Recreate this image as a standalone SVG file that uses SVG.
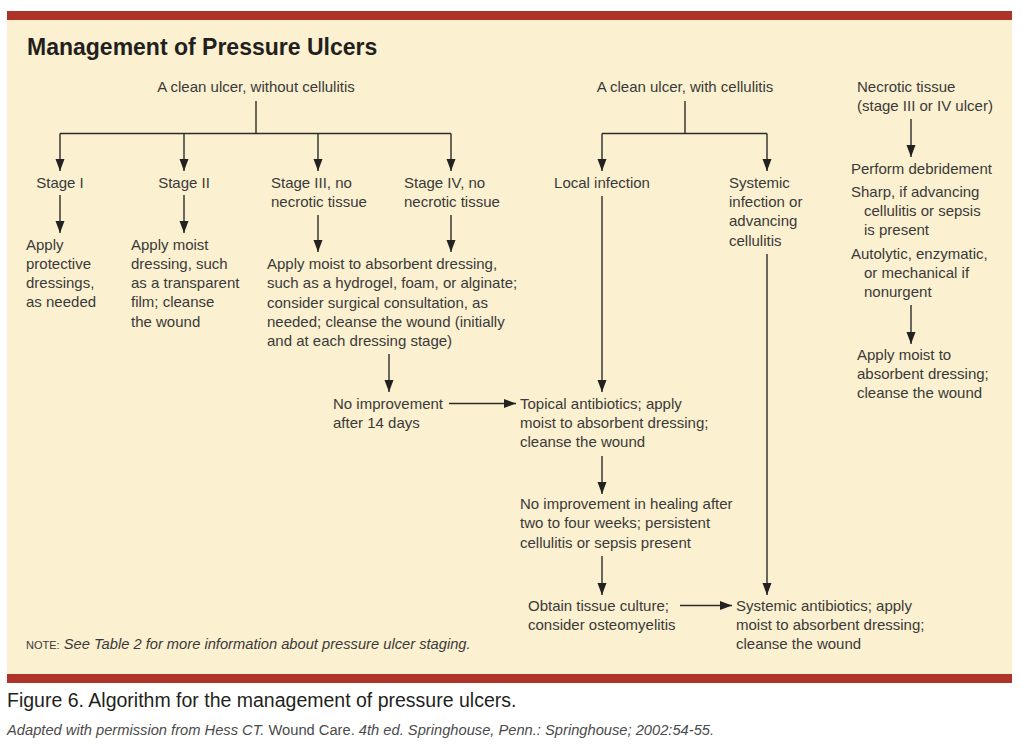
<svg xmlns="http://www.w3.org/2000/svg" width="1022" height="745" viewBox="0 0 1022 745">
<defs>
<marker id="ah" markerUnits="userSpaceOnUse" markerWidth="13" markerHeight="10" refX="12" refY="4.5" orient="auto">
<path d="M0,0 L12,4.5 L0,9 z" fill="#222"/>
</marker>
<style>
.t{font-family:"Liberation Sans",Arial,sans-serif;font-size:15px;fill:#3a3a3a}
.c{text-anchor:middle}
.ln{stroke:#2b2b2b;stroke-width:1.4;fill:none}
.ar{stroke:#2b2b2b;stroke-width:1.4;fill:none;marker-end:url(#ah)}
</style>
</defs>
<rect x="0" y="0" width="1022" height="745" fill="#ffffff"/>
<rect x="7" y="20" width="1005" height="655" fill="#FBF0CF"/>
<rect x="7" y="11" width="1005" height="9" fill="#AE3429"/>
<rect x="7" y="674" width="1005" height="9" fill="#AE3429"/>
<text x="27" y="55" font-family="Liberation Sans,Arial,sans-serif" font-size="23" font-weight="bold" fill="#231f20">Management of Pressure Ulcers</text>

<g id="connectors">
<path class="ln" d="M256,101 V133.5 M60,133.5 H451"/>
<path class="ar" d="M60,133.5 V171"/>
<path class="ar" d="M184,133.5 V171"/>
<path class="ar" d="M318,133.5 V171"/>
<path class="ar" d="M451,133.5 V171"/>
<path class="ar" d="M60,195 V233"/>
<path class="ar" d="M184,195 V233"/>
<path class="ar" d="M318,215 V252"/>
<path class="ar" d="M451,215 V252"/>
<path class="ar" d="M389,354 V392"/>
<path class="ar" d="M449,403.5 H516"/>
<path class="ln" d="M685,101 V133.5 M602,133.5 H767"/>
<path class="ar" d="M602,133.5 V171"/>
<path class="ar" d="M767,133.5 V171"/>
<path class="ar" d="M602,196 V392"/>
<path class="ar" d="M602,456 V494"/>
<path class="ar" d="M602,556 V595"/>
<path class="ar" d="M767,254 V595"/>
<path class="ar" d="M680,605.5 H732"/>
<path class="ar" d="M911,119 V157"/>
<path class="ar" d="M911,305 V344"/>
</g>

<g id="n-clean-no-cell"><text class="t c" x="256" y="92">A clean ulcer, without cellulitis</text></g>
<g id="n-stage1"><text class="t c" x="60" y="188">Stage I</text></g>
<g id="n-stage2"><text class="t c" x="184" y="188">Stage II</text></g>
<g id="n-stage3"><text class="t" x="271" y="188">Stage III, no</text><text class="t" x="271" y="207">necrotic tissue</text></g>
<g id="n-stage4"><text class="t" x="404" y="188">Stage IV, no</text><text class="t" x="404" y="207">necrotic tissue</text></g>
<g id="n-apply-prot"><text class="t" x="26" y="250">Apply</text><text class="t" x="26" y="269">protective</text><text class="t" x="26" y="288">dressings,</text><text class="t" x="26" y="307">as needed</text></g>
<g id="n-apply-moist"><text class="t" x="131" y="250">Apply moist</text><text class="t" x="131" y="269">dressing, such</text><text class="t" x="131" y="288">as a transparent</text><text class="t" x="131" y="307">film; cleanse</text><text class="t" x="131" y="327">the wound</text></g>
<g id="n-apply-abs"><text class="t" x="267" y="269">Apply moist to absorbent dressing,</text><text class="t" x="267" y="288">such as a hydrogel, foam, or alginate;</text><text class="t" x="267" y="308">consider surgical consultation, as</text><text class="t" x="267" y="327">needed; cleanse the wound (initially</text><text class="t" x="267" y="346">and at each dressing stage)</text></g>
<g id="n-no-imp14"><text class="t" x="333" y="409">No improvement</text><text class="t" x="333" y="428">after 14 days</text></g>
<g id="n-clean-cell"><text class="t c" x="685" y="92">A clean ulcer, with cellulitis</text></g>
<g id="n-local"><text class="t c" x="602" y="188">Local infection</text></g>
<g id="n-systemic-inf"><text class="t" x="729" y="188">Systemic</text><text class="t" x="729" y="207">infection or</text><text class="t" x="729" y="226">advancing</text><text class="t" x="729" y="246">cellulitis</text></g>
<g id="n-topical"><text class="t" x="520" y="409">Topical antibiotics; apply</text><text class="t" x="520" y="428">moist to absorbent dressing;</text><text class="t" x="520" y="447">cleanse the wound</text></g>
<g id="n-no-imp-weeks"><text class="t" x="520" y="509">No improvement in healing after</text><text class="t" x="520" y="528">two to four weeks; persistent</text><text class="t" x="520" y="548">cellulitis or sepsis present</text></g>
<g id="n-culture"><text class="t" x="528" y="611">Obtain tissue culture;</text><text class="t" x="528" y="630">consider osteomyelitis</text></g>
<g id="n-systemic-ab"><text class="t" x="736" y="611">Systemic antibiotics; apply</text><text class="t" x="736" y="630">moist to absorbent dressing;</text><text class="t" x="736" y="649">cleanse the wound</text></g>
<g id="n-necrotic"><text class="t" x="857" y="92">Necrotic tissue</text><text class="t" x="857" y="111">(stage III or IV ulcer)</text></g>
<g id="n-debride"><text class="t" x="851" y="174">Perform debridement</text><text class="t" x="851" y="197">Sharp, if advancing</text><text class="t" x="864" y="216">cellulitis or sepsis</text><text class="t" x="864" y="235">is present</text><text class="t" x="851" y="259">Autolytic, enzymatic,</text><text class="t" x="864" y="278">or mechanical if</text><text class="t" x="864" y="297">nonurgent</text></g>
<g id="n-necrotic-apply"><text class="t" x="857" y="360">Apply moist to</text><text class="t" x="857" y="379">absorbent dressing;</text><text class="t" x="857" y="398">cleanse the wound</text></g>

<text x="26" y="649" font-family="Liberation Sans,Arial,sans-serif" font-size="14.7" fill="#3a3a3a"><tspan font-size="11">NOTE:</tspan> <tspan font-style="italic">See Table 2 for more information about pressure ulcer staging.</tspan></text>
<text x="7" y="707" font-family="Liberation Sans,Arial,sans-serif" font-size="19.5" fill="#231f20">Figure 6. Algorithm for the management of pressure ulcers.</text>
<text x="7" y="735" font-family="Liberation Sans,Arial,sans-serif" font-size="14.7" fill="#4a4a4a"><tspan font-style="italic">Adapted with permission from Hess CT. </tspan>Wound Care.<tspan font-style="italic"> 4th ed. Springhouse, Penn.: Springhouse; 2002:54-55.</tspan></text>
</svg>
